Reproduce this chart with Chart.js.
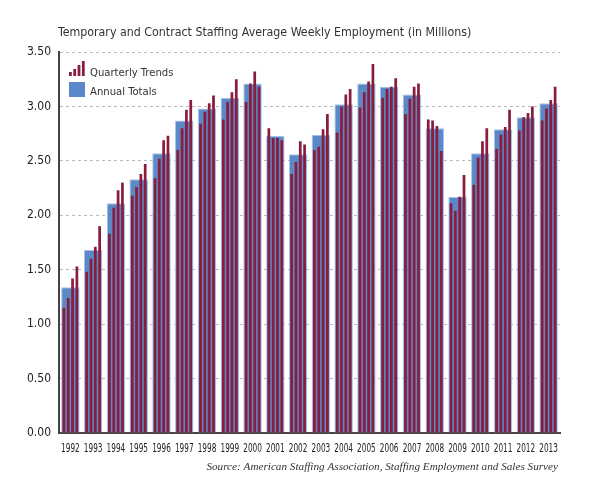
<!DOCTYPE html>
<html lang="en">
<head>
  <meta charset="UTF-8">
  <title>Temporary and Contract Staffing</title>
  <style>
    html, body { margin: 0; padding: 0; background: #fff; }
    #grafica { display: block; }
  </style>
</head>
<body>
  <canvas id="grafica" width="600" height="492"></canvas>
  <script src="https://cdn.jsdelivr.net/npm/chart.js"></script>
  <script>
    // Datos (millones de empleos semanales)
    const years = ["1992", "1993", "1994", "1995", "1996", "1997", "1998", "1999", "2000", "2001", "2002",
                   "2003", "2004", "2005", "2006", "2007", "2008", "2009", "2010", "2011", "2012", "2013"];
    const annualTotals = [1.34, 1.68, 2.11, 2.33, 2.57, 2.87, 2.98, 3.08, 3.21, 2.73, 2.56,
                          2.74, 3.02, 3.21, 3.18, 3.11, 2.80, 2.17, 2.57, 2.79, 2.90, 3.03];
    const q1 = [1.15, 1.48, 1.83, 2.18, 2.34, 2.60, 2.84, 2.88, 3.04, 2.80, 2.38,
                2.60, 2.76, 2.99, 3.08, 2.93, 2.88, 2.11, 2.28, 2.61, 2.78, 2.87];
    const q2 = [1.24, 1.60, 2.07, 2.26, 2.52, 2.80, 2.95, 3.04, 3.21, 2.71, 2.49,
                2.63, 3.00, 3.13, 3.16, 3.07, 2.87, 2.04, 2.53, 2.74, 2.90, 2.98];
    const q3 = [1.42, 1.71, 2.23, 2.38, 2.69, 2.97, 3.03, 3.13, 3.32, 2.71, 2.68,
                2.79, 3.11, 3.23, 3.18, 3.18, 2.82, 2.17, 2.68, 2.81, 2.94, 3.06];
    const q4 = [1.53, 1.90, 2.30, 2.47, 2.73, 3.06, 3.10, 3.25, 3.18, 2.69, 2.65,
                2.93, 3.16, 3.39, 3.26, 3.21, 2.59, 2.37, 2.80, 2.97, 3.00, 3.18];
    const yTicks = [0, 0.5, 1, 1.5, 2, 2.5, 3, 3.5];

    const rojo = "#8a1c3c";
    const azul = "#5b88c8";
    const fuenteNarrow = "'DejaVu Sans Condensed', 'Liberation Sans', sans-serif";

    // Titulo, leyenda, años y fuente dibujados sobre el canvas
    const textos = {
      id: "textos",
      afterDraw(chart) {
        const ctx = chart.ctx;
        const area = chart.chartArea;
        ctx.save();
        ctx.fillStyle = "#333";
        ctx.textBaseline = "middle";
        ctx.textAlign = "left";
        ctx.font = "12.3px " + fuenteNarrow;
        ctx.fillText("Temporary and Contract Staffing Average Weekly Employment (in Millions)", area.left - 1, 33);

        // leyenda
        const lx = area.left + 10;
        const alturas = [4, 7, 11, 15];
        alturas.forEach((h, i) => {
          ctx.fillStyle = rojo;
          ctx.fillRect(lx + i * 4.3, 76 - h, 2.8, h);
        });
        ctx.fillStyle = azul;
        ctx.fillRect(lx, 82, 16, 15);
        ctx.fillStyle = "#333";
        ctx.font = "11.2px " + fuenteNarrow;
        ctx.fillText(chart.data.datasets[0].label, lx + 21, 73);
        ctx.fillText(chart.data.datasets[4].label, lx + 21, 92);

        // etiquetas de años, algo comprimidas como en el original
        const xs = chart.scales.x;
        ctx.fillStyle = "#222";
        ctx.textAlign = "center";
        ctx.font = "12px " + fuenteNarrow;
        chart.data.labels.forEach((lab, i) => {
          const px = xs.getPixelForValue(i);
          ctx.save();
          ctx.translate(px, 449);
          ctx.scale(0.68, 1);
          ctx.fillText(lab, 0, 0);
          ctx.restore();
        });

        // fuente
        ctx.fillStyle = "#333";
        ctx.textAlign = "right";
        ctx.font = "italic 11.2px 'Liberation Serif', 'DejaVu Serif', serif";
        ctx.fillText("Source: American Staffing Association, Staffing Employment and Sales Survey", area.right - 2, 467);
        ctx.restore();
      }
    };

    const barraQ = (label, data) => ({
      label: label,
      data: data,
      backgroundColor: rojo,
      categoryPercentage: 0.76,
      barPercentage: 0.63
    });

    const datos = {
      labels: years,
      datasets: [
        barraQ("Quarterly Trends", q1),
        barraQ("Q2", q2),
        barraQ("Q3", q3),
        barraQ("Q4", q4),
        {
          label: "Annual Totals",
          data: annualTotals,
          grouped: false,
          backgroundColor: azul,
          borderColor: "#a9c3e6",
          borderWidth: 1,
          categoryPercentage: 0.81,
          barPercentage: 1.0
        }
      ]
    };

    const config = {
      type: "bar",
      data: datos,
      options: {
        responsive: false,
        animation: false,
        layout: { padding: { left: 0, top: 52, right: 40, bottom: 31 } },
        plugins: {
          legend: { display: false },
          tooltip: { enabled: false }
        },
        scales: {
          x: {
            grid: { display: false, drawTicks: false },
            border: { display: true, color: "#444", width: 2 },
            ticks: { display: false },
            afterFit(scale) { scale.height = 28; }
          },
          y: {
            min: 0,
            max: 3.5,
            afterBuildTicks(scale) { scale.ticks = yTicks.map(v => ({ value: v })); },
            ticks: {
              color: "#222",
              font: { family: fuenteNarrow, size: 12 },
              padding: 8,
              callback: v => v.toFixed(2)
            },
            grid: {
              color: ctx => ctx.tick && ctx.tick.value === 0 ? "rgba(0,0,0,0)" : "#b8b8b8",
              drawTicks: false
            },
            border: { display: true, color: "#444", width: 2, dash: [3, 3] },
            afterFit(scale) { scale.width = 59; }
          }
        }
      },
      plugins: [textos]
    };

    const ctx = document.getElementById("grafica").getContext("2d");
    window.grafica = new Chart(ctx, config);
  </script>
</body>
</html>
